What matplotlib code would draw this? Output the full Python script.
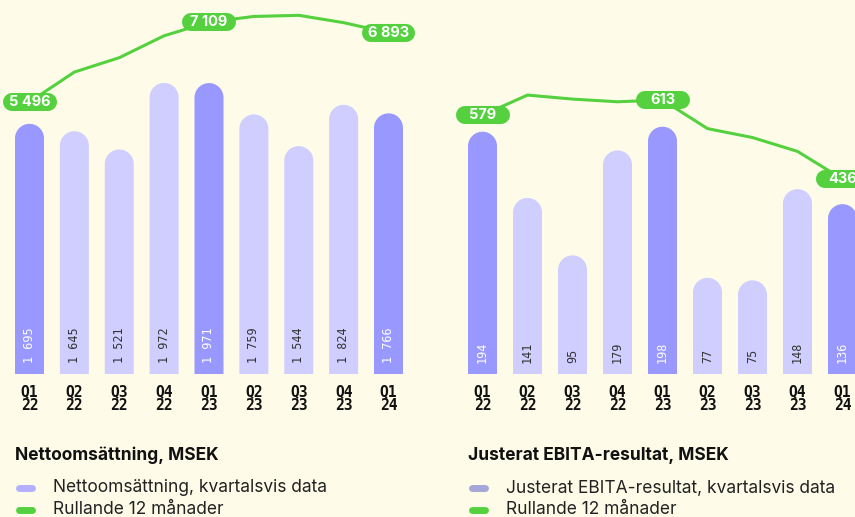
import matplotlib.pyplot as plt
from matplotlib.patches import Polygon
from matplotlib.lines import Line2D
import numpy as np

quarters = ["Q1\n22", "Q2\n22", "Q3\n22", "Q4\n22", "Q1\n23", "Q2\n23", "Q3\n23", "Q4\n23", "Q1\n24"]
sales = [1695, 1645, 1521, 1972, 1971, 1759, 1544, 1824, 1766]
sales_ltm = [5496, 6100, 6390, 6833, 7109, 7223, 7246, 7098, 6893]
ebita = [194, 141, 95, 179, 198, 77, 75, 148, 136]
ebita_ltm = [579, 624, 615, 609, 613, 549, 529, 498, 436]
sales_labels = ["1 695", "1 645", "1 521", "1 972", "1 971", "1 759", "1 544", "1 824", "1 766"]
ltm_marked = [0, 4, 8]

BG = "#fefce8"
DARK = "#9898ff"
LIGHT = "#d0ceff"
GREEN = "#55d13f"

W, H = 855, 517
fig = plt.figure(figsize=(W / 100, H / 100), dpi=100, facecolor=BG)
base = 374  # baseline in pixels from top


def pill_bar(ax, x, v, w, r, color):
    # bar with a semicircular top (elliptical in data units, round on screen)
    t = np.linspace(0, np.pi, 40)
    arc = np.column_stack([x + w / 2 * np.cos(t), v - r + r * np.sin(t)])
    pts = np.vstack([[x + w / 2, 0], arc, [x - w / 2, 0]])
    ax.add_patch(Polygon(pts, closed=True, facecolor=color, edgecolor="none", zorder=2))


def panel(x0, x1, c0, step, vals, bar_top, ltm, line_top, labels, ltm_fmt):
    ax = fig.add_axes([x0 / W, (H - base) / H, (x1 - x0) / W, base / H])
    ax.set_facecolor(BG)
    ax.set_xlim((x0 - c0) / step, (x1 - c0) / step)
    ax.set_ylim(0, bar_top)
    for s in ax.spines.values():
        s.set_visible(False)
    ax.set_yticks([])
    ax.set_xticks(range(len(quarters)))
    ax.set_xticklabels(quarters, fontsize=10.5, fontweight="bold",
                       family="DejaVu Sans Mono", linespacing=0.95, color="#111111")
    ax.tick_params(axis="x", length=0, pad=7)

    w = 29 / step
    r = 14.5 * bar_top / base
    for i, v in enumerate(vals):
        c = DARK if i % 4 == 0 else LIGHT
        pill_bar(ax, i, v, w, r, c)
        ax.annotate(labels[i], (i, 0), xytext=(0, 8), textcoords="offset points",
                    rotation=90, ha="center", va="bottom", fontsize=8.5,
                    family="DejaVu Sans Mono",
                    color="white" if i % 4 == 0 else "#333333", zorder=3)

    lx = ax.twinx()
    lx.set_ylim(0, line_top)
    lx.axis("off")
    lx.plot(range(len(ltm)), ltm, color=GREEN, linewidth=2.2, zorder=4)
    half = 18 / step
    for i in ltm_marked:
        lx.plot([i - half, i + half], [ltm[i], ltm[i]], color=GREEN,
                linewidth=13, solid_capstyle="round", zorder=5, clip_on=False)
        lx.text(i, ltm[i], ltm_fmt(ltm[i]), ha="center", va="center",
                color="white", fontsize=10.5, fontweight="bold", family="Inter",
                zorder=6)
    return ax


fmt_sales = lambda v: f"{v:,}".replace(",", " ")
panel(0, 430, 29.5, 44.875, sales, 374 / 0.1476, sales_ltm, 374 / 0.0495,
      sales_labels, fmt_sales)
panel(440, 855, 482.5, 45, ebita, 374 / 1.249, ebita_ltm, 374 / 0.447,
      [str(v) for v in ebita], str)


def legend(x, title, first, mcolor):
    fig.text(x / W, 1 - 455 / H, title, fontsize=12.5, fontweight="bold",
             family="Inter", va="center", color="#111111")
    for y, txt, col in [(488, first, mcolor), (510, "Rullande 12 månader", GREEN)]:
        fig.add_artist(Line2D([(x + 3.5) / W, (x + 16.5) / W], [1 - y / H, 1 - y / H],
                              transform=fig.transFigure, color=col, linewidth=5,
                              solid_capstyle="round"))
        fig.text((x + 38) / W, 1 - y / H, txt, fontsize=12.5, family="Inter",
                 va="center", color="#222222")


legend(15, "Nettoomsättning, MSEK", "Nettoomsättning, kvartalsvis data", "#b3b1ff")
legend(468, "Justerat EBITA-resultat, MSEK", "Justerat EBITA-resultat, kvartalsvis data", "#a6a6d8")

fig.savefig("out.png", dpi=100, facecolor=BG)
